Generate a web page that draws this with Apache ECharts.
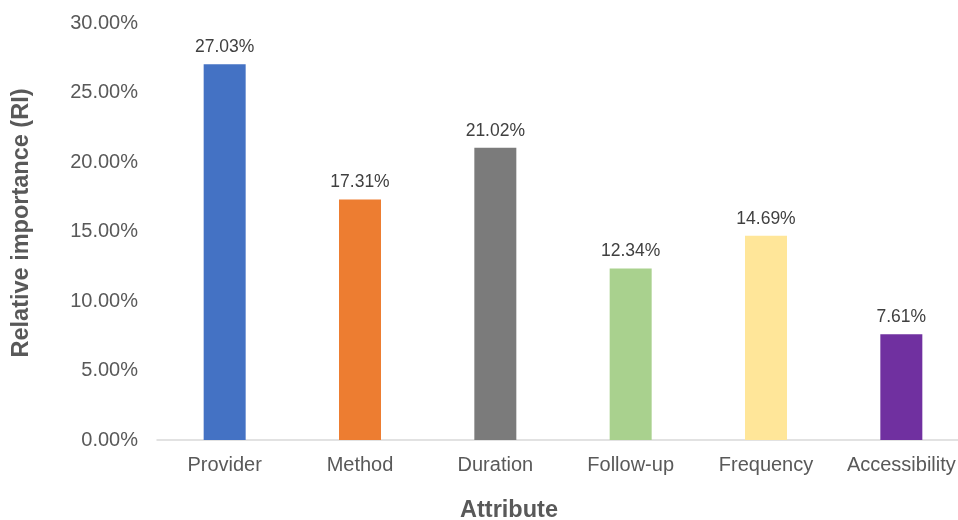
<!DOCTYPE html>
<html><head><meta charset="utf-8">
<script src="https://cdn.jsdelivr.net/npm/echarts@6/dist/echarts.min.js"></script>
<style>html,body{margin:0;padding:0;background:#fff}#c{width:958px;height:520px}</style>
</head><body><div id="c"></div>
<script>
const categories = ['Provider','Method','Duration','Follow-up','Frequency','Accessibility'];
const values = [27.03, 17.31, 21.02, 12.34, 14.69, 7.61];
const colors = ['#4472C4','#ED7D31','#7B7B7B','#A9D18E','#FFE699','#7030A0'];
const yTicks = {min: 0, max: 30, interval: 5};

const chart = echarts.init(document.getElementById('c'));
chart.setOption({
  animation: false,
  grid: {left: 157, top: 23, right: -11, bottom: 80, containLabel: false, outerBoundsMode: 'none'},
  xAxis: {
    type: 'category', data: categories,
    axisLine: {lineStyle: {color: '#D9D9D9', width: 1.5}},
    axisTick: {show: false},
    axisLabel: {color: '#595959', fontSize: 20, fontFamily: 'Arial, Liberation Sans', margin: 15, interval: 0, hideOverlap: false}
  },
  yAxis: {
    type: 'value', min: yTicks.min, max: yTicks.max, interval: yTicks.interval,
    splitLine: {show: false},
    axisLine: {show: false}, axisTick: {show: false},
    axisLabel: {color: '#595959', fontSize: 20, fontFamily: 'Arial, Liberation Sans', margin: 19,
      formatter: v => v.toFixed(2) + '%'}
  },
  series: [{
    type: 'bar', barWidth: 42,
    data: values.map((v, i) => ({value: v, itemStyle: {color: colors[i]}})),
    label: {show: true, position: 'top', distance: 8, color: '#404040', fontSize: 17.5,
      fontFamily: 'Arial, Liberation Sans', formatter: p => p.value.toFixed(2) + '%'}
  }],
  graphic: [
    {type: 'text', x: 509, y: 511, style: {text: 'Attribute', font: 'bold 23.5px Arial, Liberation Sans', fill: '#595959', align: 'center', verticalAlign: 'middle'}},
    {type: 'text', x: 22, y: 223, rotation: Math.PI/2, style: {text: 'Relative importance (RI)', font: 'bold 23.5px Arial, Liberation Sans', fill: '#595959', align: 'center', verticalAlign: 'middle'}}
  ]
});
</script></body></html>
